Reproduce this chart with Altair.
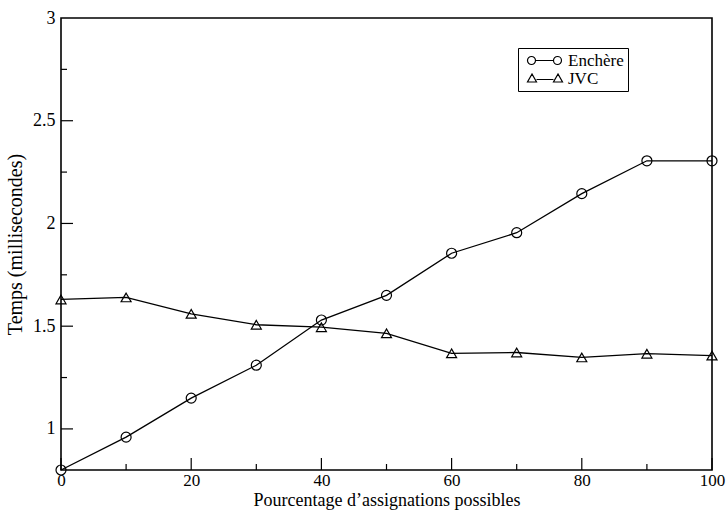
import altair as alt
import pandas as pd

x_vals = [0, 10, 20, 30, 40, 50, 60, 70, 80, 90, 100]
enchere = [0.80, 0.96, 1.15, 1.31, 1.53, 1.65, 1.855, 1.955, 2.145, 2.305, 2.305]
jvc = [1.63, 1.64, 1.56, 1.507, 1.495, 1.465, 1.368, 1.372, 1.348, 1.366, 1.357]
series_names = ["Enchère", "JVC"]

x_major = [0, 20, 40, 60, 80, 100]
x_minor = [10, 30, 50, 70, 90]
y_major = [1, 1.5, 2, 2.5]
y_minor = [1.25, 1.75, 2.25, 2.75]
y_labels = [1, 1.5, 2, 2.5, 3]

rows = []
for xv, yv in zip(x_vals, enchere):
    rows.append({"x": xv, "y": yv, "series": series_names[0]})
for xv, yv in zip(x_vals, jvc):
    rows.append({"x": xv, "y": yv, "series": series_names[1]})
df = pd.DataFrame(rows)

W, H = 651, 452
FONT = "Liberation Serif"

xscale = alt.Scale(domain=[0, 100], nice=False, zero=False)
yscale = alt.Scale(domain=[0.8, 3], nice=False, zero=False)

x_axis = alt.Axis(values=x_major, title="Pourcentage d\u2019assignations possibles",
                  tickSize=0, domain=False, grid=False, labelFlush=False,
                  labelPadding=2, titlePadding=3, labelFontSize=17, titleFontSize=18,
                  labelFont=FONT, titleFont=FONT, titleFontWeight="normal",
                  labelColor="black", titleColor="black")
y_axis = alt.Axis(values=y_labels, title="Temps (millisecondes)", format="~g",
                  tickSize=0, domain=False, grid=False, labelFlush=False,
                  labelPadding=6, titlePadding=7, labelFontSize=18, titleFontSize=20,
                  labelFont=FONT, titleFont=FONT, titleFontWeight="normal",
                  labelColor="black", titleColor="black")

X = alt.X("x:Q", scale=xscale, axis=x_axis)
Y = alt.Y("y:Q", scale=yscale, axis=y_axis)

base = alt.Chart(df)

lines = base.mark_line(color="black", strokeWidth=1.3).encode(
    x=X, y=Y, detail="series:N",
)

points = base.mark_point(filled=False, color="black", size=100, strokeWidth=1.2, opacity=1).encode(
    x=X, y=Y,
    shape=alt.Shape("series:N", scale=alt.Scale(domain=series_names, range=["circle", "triangle-up"]), legend=None),
)

# legend glyphs "o—o" and "△—△" (unit = 2 px)
circ_path = ("M 2.5,0 A 2,2 0 1,1 -1.5,0 A 2,2 0 1,1 2.5,0 "
             "L 11.5,0 A 2,2 0 1,1 15.5,0 A 2,2 0 1,1 11.5,0")
tri_path = ("M 0.75,-2.25 L -1.5,1.75 L 3,1.75 Z M 3,0.5 L 11.5,0.5 "
            "M 13.75,-2.25 L 11.5,1.75 L 16,1.75 Z")

legend_layer = base.mark_point(filled=False, color="black", size=1, opacity=0).encode(
    x=X, y=Y,
    shape=alt.Shape("series:N",
                    scale=alt.Scale(domain=series_names, range=[circ_path, tri_path]),
                    legend=alt.Legend(title=None, orient="none", legendX=457, legendY=30,
                                      strokeColor="black", fillColor="white", padding=4,
                                      labelFont=FONT, labelFontSize=17, labelColor="black",
                                      labelOffset=29, symbolSize=16, symbolStrokeWidth=1.2,
                                      symbolStrokeColor="black", symbolFillColor="transparent",
                                      symbolOpacity=1, rowPadding=0)),
)

xt_major = alt.Chart(pd.DataFrame({"x": x_major})).mark_rule(color="black", strokeWidth=1.2).encode(
    x=X, y=alt.value(H), y2=alt.value(H - 12))
xt_minor = alt.Chart(pd.DataFrame({"x": x_minor})).mark_rule(color="black", strokeWidth=1.2).encode(
    x=X, y=alt.value(H), y2=alt.value(H - 6))
yt_major = alt.Chart(pd.DataFrame({"y": y_major})).mark_rule(color="black", strokeWidth=1.2).encode(
    y=Y, x=alt.value(0), x2=alt.value(12))
yt_minor = alt.Chart(pd.DataFrame({"y": y_minor})).mark_rule(color="black", strokeWidth=1.2).encode(
    y=Y, x=alt.value(0), x2=alt.value(6))

chart = alt.layer(lines, points, legend_layer, xt_major, xt_minor, yt_major, yt_minor).resolve_scale(
    shape="independent"
).properties(
    width=W, height=H,
    autosize=alt.AutoSizeParams(type="none"),
    padding={"left": 61, "top": 18, "right": 16, "bottom": 42},
    background="white",
).configure_view(stroke="black", strokeWidth=1.6)

chart.save("out.html", embed_options={"renderer": "svg", "actions": False})
